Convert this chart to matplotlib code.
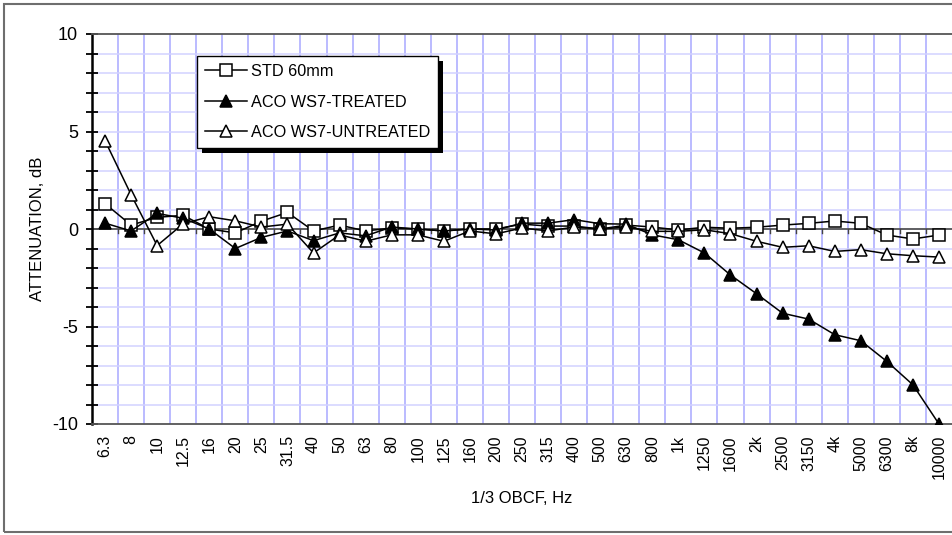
import matplotlib
matplotlib.use("Agg")
import matplotlib.pyplot as plt
from matplotlib.patches import Rectangle
from matplotlib.ticker import MultipleLocator
import numpy as np

plt.rcParams['font.family'] = ['Liberation Sans', 'DejaVu Sans']

# 1/3 octave band centre frequencies
bands = ["6.3", "8", "10", "12.5", "16", "20", "25", "31.5", "40", "50", "63",
         "80", "100", "125", "160", "200", "250", "315", "400", "500", "630",
         "800", "1k", "1250", "1600", "2k", "2500", "3150", "4k", "5000",
         "6300", "8k", "10000"]

# Attenuation, dB
std_60mm = [1.3, 0.2, 0.6, 0.7, 0.0, -0.2, 0.4, 0.85, -0.1, 0.2, -0.1,
            0.05, 0.0, -0.1, 0.0, 0.0, 0.25, 0.15, 0.15, 0.0, 0.2,
            0.1, -0.05, 0.09, 0.04, 0.09, 0.2, 0.29, 0.41, 0.29,
            -0.31, -0.51, -0.31]
aco_treated = [0.3, -0.1, 0.8, 0.55, 0.0, -1.0, -0.43, -0.1, -0.6, -0.2, -0.35,
               0.1, 0.0, -0.1, 0.0, -0.05, 0.3, 0.3, 0.48, 0.27, 0.25,
               -0.3, -0.55, -1.23, -2.36, -3.32, -4.32, -4.62, -5.42, -5.73,
               -6.79, -7.99, -10.0]
aco_untreated = [4.53, 1.76, -0.85, 0.27, 0.63, 0.42, 0.1, 0.25, -1.23, -0.3, -0.63,
                 -0.3, -0.3, -0.63, -0.1, -0.25, 0.05, -0.1, 0.1, 0.0, 0.1,
                 -0.12, -0.12, -0.04, -0.24, -0.63, -0.94, -0.86, -1.15, -1.06,
                 -1.27, -1.37, -1.44]

W, H = 952, 535
fig = plt.figure(figsize=(W / 100, H / 100), dpi=100)

# outer frame of the figure
fig.patches.append(Rectangle((4 / W, 3 / H), 1.2, (531 - 3) / H,
                             transform=fig.transFigure, fill=False,
                             edgecolor='#6e6e6e', linewidth=1.5, zorder=0))

ax = fig.add_axes([92 / W, 1 - 424 / H, (952 - 92) / W, (424 - 34) / H])

x = np.arange(len(bands))
ax.set_xlim(-0.5, len(bands) - 0.5)
ax.set_ylim(-10, 10)

# grid: vertical lines between bands, horizontal lines every 1 dB
boundaries = np.arange(0.5, len(bands) - 0.5, 1.0)
for xb in boundaries:
    ax.axvline(xb, color='#a8a8ff', linewidth=1.1, zorder=1)
for yv in range(-9, 10):
    ax.axhline(yv, color='#d2d2ff', linewidth=1.1, zorder=1)

# zero reference line with small tick marks at band boundaries
ax.axhline(0, color='#555555', linewidth=1.3, zorder=2)
for xb in boundaries:
    ax.plot([xb, xb], [0, -0.22], color='#444444', linewidth=1.0, zorder=2)

line_kw = dict(color='black', linewidth=1.1, markeredgewidth=1.1, zorder=4)
ax.plot(x, std_60mm, marker='s', markersize=8, markerfacecolor='white',
        label='STD 60mm', **line_kw)
ax.plot(x, aco_treated, marker='^', markersize=8.5, markerfacecolor='black',
        label='ACO WS7-TREATED', **line_kw)
ax.plot(x, aco_untreated, marker='^', markersize=8.5, markerfacecolor='white',
        label='ACO WS7-UNTREATED', **line_kw)

# spines
for s in ['top', 'bottom']:
    ax.spines[s].set_color('#555555')
    ax.spines[s].set_linewidth(1.3)
ax.spines['right'].set_visible(False)
ax.spines['left'].set_color('black')
ax.spines['left'].set_linewidth(1.8)

# y axis ticks
ax.set_yticks([-10, -5, 0, 5, 10])
ax.set_yticklabels(['-10', '-5', '0', '5', '10'])
ax.yaxis.set_minor_locator(MultipleLocator(1))
ax.tick_params(axis='y', which='both', direction='inout', length=8,
               width=1.3, color='black')
ax.tick_params(axis='y', which='major', labelsize=13, pad=6)

# x axis labels
ax.set_xticks(x)
ax.set_xticklabels(bands, rotation=90, fontsize=11.5)
ax.tick_params(axis='x', length=0, pad=8)

ax.set_xlabel('1/3 OBCF, Hz', fontsize=12, labelpad=8)
ax.set_ylabel('ATTENUATION, dB', fontsize=12, labelpad=5)

# legend with drop shadow
leg = ax.legend(loc='upper left',
                bbox_to_anchor=((197 - 92) / (952 - 92), (424 - 56) / 390),
                fontsize=11.7, frameon=True, fancybox=False, shadow=False,
                borderpad=0.5, labelspacing=0.95, handlelength=2.55,
                handletextpad=0.25, borderaxespad=0)
frame = leg.get_frame()
frame.set_edgecolor('black')
frame.set_linewidth(1.0)
frame.set_alpha(1.0)
leg.set_zorder(6)

fig.canvas.draw()
bb = frame.get_window_extent()
ax.add_artist(Rectangle((bb.x0 + 5, bb.y0 - 5), bb.width, bb.height,
                        transform=None, facecolor='black', edgecolor='none',
                        zorder=5.5))

fig.savefig('out.png', dpi=100)
